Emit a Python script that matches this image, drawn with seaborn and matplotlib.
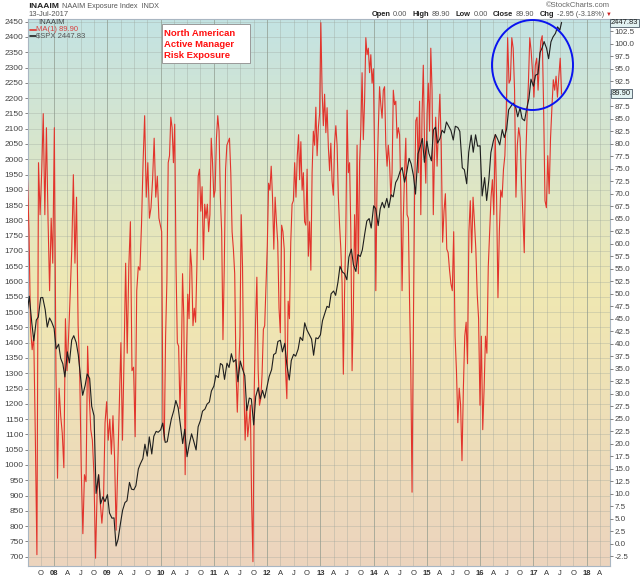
import numpy as np
import pandas as pd
import matplotlib
matplotlib.use("Agg")
import matplotlib.pyplot as plt
import seaborn as sns
from matplotlib.patches import Ellipse, Rectangle
from matplotlib.colors import LinearSegmentedColormap

# ---------------- data ----------------
naaim_2007_2009 = [73.5, 62.4, 42.9, 38.8, 41.5, 21.4, -2.2, 76.2, 65.8, 74.2, 86.0, 65.8, 83.2, 65.1, 50.6,
                   65.1, 56.1, 83.2, 34.6, 13.1, 31.1, 25.6, 22.1, 15.2, 45.0, 34.6, 41.5, 49.9, 58.9, 73.8,
                   56.1, 69.3, 43.6, 34.6, 14.5, 2.0, 13.8, 12.4, 39.5, 29.7, 22.8, 20.7, 13.8, -2.9, 10.3,
                   13.8, 8.2, 4.1, 8.2, 24.2, 28.4, 20.7, 24.9, 17.9, 25.6, 17.3, 2.7, 15.2, 27.7, 40.2,
                   20.7, 37.4, 56.1, 38.1, 55.4, 64.4, 34.6, 35.3, 21.4, 50.6, 55.4, 54.7, 63.7, 76.2, 85.6,
                   69.3, 76.2, 65.1, 67.2, 72.8, 81.1, 69.3, 73.5, 65.1]
naaim_2010_2012 = [62.4, 24.2, 20.7, 41.5, 52.6, 76.2, 77.6, 85.3, 83.2, 76.2, 83.9, 55.4, 40.2, 39.5, 27.0,
                   34.6, 54.0, 45.0, 13.8, 37.4, 49.9, 45.0, 58.9, 55.4, 43.6, 47.1, 44.3, 55.4, 73.5, 74.9,
                   66.5, 71.4, 56.8, 67.9, 65.1, 67.9, 62.4, 65.8, 81.1, 76.2, 69.3, 70.7, 81.1, 85.6, 82.5,
                   69.3, 62.4, 40.8, 55.4, 74.9, 79.7, 80.4, 81.1, 74.2, 62.4, 58.9, 54.0, 34.6, 26.3, 34.6,
                   41.5, 65.8, 55.4, 31.8, 20.7, 27.7, 21.4, 24.2, 27.7, 8.2, -3.6, 31.1, 44.3, 53.3, 34.6,
                   27.7, 29.0, 33.9, 42.9, 43.6, 51.3, 59.6, 72.1, 70.7, 75.5, 69.3, 58.9, 69.3, 64.4, 60.3,
                   47.1, 42.2, 63.7, 62.4, 58.9, 34.6, 29.0, 48.5, 45.0, 60.3, 67.9, 68.6, 76.2, 69.3, 77.6,
                   81.8]
naaim_2012_2015 = [72.8, 80.4, 70.7, 74.2, 64.4, 63.7, 74.9, 57.5, 64.4, 54.7, 74.2, 82.5, 79.7, 87.3, 77.6,
                   83.2, 86.0, 104.2, 90.6, 83.6, 89.9, 82.2, 87.2, 79.4, 74.6, 80.1, 72.5, 69.7, 80.1, 83.6,
                   79.7, 69.3, 63.7, 58.9, 52.0, 33.9, 50.6, 62.4, 86.7, 74.2, 76.2, 62.4, 34.6, 46.4, 65.8,
                   55.4, 79.7, 54.0, 76.2, 82.9, 94.2, 80.8, 88.5, 101.2, 97.8, 99.1, 94.2, 97.8, 92.1, 95.0,
                   77.6, 50.6, 72.8, 83.2, 91.4, 87.8, 85.1, 90.7, 91.4, 79.7, 75.5, 79.7, 76.2, 69.3, 74.2,
                   90.7, 87.8, 88.5, 81.1, 83.2, 81.8, 70.7, 50.6, 65.1, 74.2, 81.1, 65.8, 65.1, 48.5, 34.6,
                   10.3, 41.5, 69.3, 84.6, 85.3, 74.2, 88.5, 65.8, 86.0, 95.7, 79.7, 72.1, 86.0, 92.1, 82.5,
                   99.1, 90.7, 65.8]
naaim_2015_2017 = [76.2, 85.3, 75.5, 83.2, 89.9, 79.7, 60.3, 66.5, 70.0, 58.9, 58.2, 54.7, 52.0, 50.6, 62.4,
                   41.5, 34.6, 24.2, 31.1, 27.7, 16.6, 31.1, 41.5, 44.3, 36.0, 62.4, 68.6, 58.2, 69.3, 64.4,
                   58.9, 49.9, 45.0, 27.7, 41.5, 22.8, 31.1, 41.5, 38.1, 55.4, 62.4, 69.3, 72.8, 65.8, 81.8,
                   69.3, 49.2, 62.4, 70.7, 69.3, 74.9, 77.6, 86.5, 101.2, 92.1, 92.8, 101.2, 99.1, 90.7, 69.3,
                   79.7, 83.2, 81.1, 72.8, 65.8, 58.2, 76.2, 85.1, 92.1, 101.2, 98.5, 94.2, 89.3, 95.7, 97.1,
                   90.7, 96.4, 100.5, 101.6, 87.2, 68.6, 67.2, 77.6, 70.0, 81.1, 87.2, 92.8, 90.7, 93.5, 89.3,
                   93.5, 97.1, 89.9]
naaim_periods = [("2007-07-02", "2009-12-20"), ("2010-01-08", "2012-08-04"),
                 ("2012-08-11", "2015-02-14"), ("2015-02-21", "2017-07-13")]

# S&P 500, twice a month (1st / 15th) Jul-2007 .. Jul-2017, plus last close 13-Jul-2017
spx_close = [
    1503, 1552, 1465, 1406, 1474, 1484, 1547, 1548, 1508, 1451, 1481, 1468,
    1447, 1380, 1395, 1349, 1331, 1288, 1370, 1334, 1409, 1423, 1400, 1360, 1284, 1228, 1260, 1298, 1283, 1192, 1161, 907, 968, 873, 896, 880,
    903, 843, 826, 827, 735, 757, 811, 852, 877, 883, 943, 921, 919, 932, 987, 1004, 1021, 1068, 1029, 1092, 1036, 1094, 1110, 1107,
    1115, 1137, 1074, 1076, 1115, 1150, 1178, 1211, 1187, 1136, 1070, 1117, 1027, 1065, 1102, 1079, 1049, 1125, 1146, 1176, 1183, 1199, 1206, 1242,
    1258, 1293, 1286, 1332, 1327, 1280, 1333, 1319, 1364, 1337, 1345, 1272, 1340, 1316, 1292, 1178, 1219, 1216, 1131, 1224, 1253, 1216, 1244, 1219,
    1258, 1289, 1312, 1361, 1366, 1404, 1408, 1370, 1398, 1330, 1278, 1342, 1362, 1356, 1379, 1418, 1407, 1465, 1441, 1428, 1412, 1359, 1416, 1413,
    1426, 1472, 1498, 1519, 1515, 1560, 1569, 1555, 1598, 1650, 1631, 1626, 1606, 1680, 1706, 1655, 1633, 1688, 1682, 1703, 1757, 1798, 1806, 1775,
    1848, 1838, 1783, 1838, 1859, 1841, 1872, 1842, 1884, 1877, 1924, 1936, 1960, 1973, 1925, 1955, 2003, 1985, 1946, 1886, 2018, 2039, 2068, 1990,
    2059, 2019, 1995, 2096, 2105, 2053, 2068, 2095, 2086, 2122, 2107, 2094, 2063, 2108, 2104, 2091, 1972, 1966, 1920, 2023, 2079, 2023, 2080, 2043,
    2044, 1880, 1940, 1865, 1932, 2022, 2060, 2081, 2065, 2047, 2097, 2071, 2099, 2162, 2174, 2184, 2171, 2139, 2168, 2133, 2126, 2164, 2199, 2262,
    2239, 2275, 2279, 2349, 2364, 2385, 2363, 2329, 2384, 2400, 2412, 2433, 2423, 2447.83]
spx_dates = list(pd.date_range("2007-07-01", "2017-07-01", freq="SMS")) + [pd.Timestamp("2017-07-13")]

spx_ticks = list(range(700, 2451, 50))
naaim_ticks = list(np.arange(-2.5, 102.6, 2.5))
quarter_ticks = pd.date_range("2007-10-01", "2018-04-01", freq="QS")
month_letter = {4: "A", 7: "J", 10: "O"}
header_items = [("Open", "0.00"), ("High", "89.90"), ("Low", "0.00"), ("Close", "89.90"), ("Chg", "-2.95 (-3.18%)")]

# ---------------- tables ----------------
frames = []
for vals, (a, b) in zip([naaim_2007_2009, naaim_2010_2012, naaim_2012_2015, naaim_2015_2017], naaim_periods):
    frames.append(pd.DataFrame({"date": pd.date_range(a, b, periods=len(vals)), "exposure": vals}))
naaim_df = pd.concat(frames, ignore_index=True)
spx_df = pd.DataFrame({"date": spx_dates, "close": spx_close})

# ---------------- figure ----------------
sns.set_theme(style="white")
plt.rcParams["font.family"] = ["Liberation Sans", "DejaVu Sans"]

W, H = 640, 576
fig = plt.figure(figsize=(6.4, 5.76), dpi=100)
fig.patch.set_facecolor("white")
rect = [27.7 / W, (H - 566) / H, (610 - 27.7) / W, (566 - 19) / H]

bg = fig.add_axes(rect, zorder=-1)
cmap = LinearSegmentedColormap.from_list("bg", [(0, "#c3e3e3"), (0.5, "#f0e8b2"), (1, "#ecd4be")])
bg.imshow(np.linspace(0, 1, 256).reshape(-1, 1), aspect="auto", cmap=cmap,
          extent=[0, 1, 0, 1], origin="upper")
bg.set_axis_off()

ax = fig.add_axes(rect)
ax.patch.set_alpha(0)
ax2 = ax.twinx()
ax3 = ax.twinx()

sns.lineplot(data=naaim_df, x="date", y="exposure", ax=ax2, color="#e2342c", lw=0.8)
sns.lineplot(data=spx_df, x="date", y="close", ax=ax3, color="#1e1e1e", lw=0.8)

xmin, xmax = pd.Timestamp("2007-07-04"), pd.Timestamp("2018-06-10")
ax.set_xlim(xmin, xmax)
spx_lim = (669.6, 2458.8)
ax.set_ylim(*spx_lim)
ax3.set_ylim(*spx_lim)
ax2.set_ylim(-4.46, 104.94)
ax3.set_axis_off()

# left axis (SPX)
ax.set_yticks(spx_ticks)
ax.yaxis.tick_left()
ax.tick_params(axis="y", labelsize=6, length=2, width=0.5, pad=1, colors="#555555", labelcolor="#444444")
ax.grid(axis="y", color="#9aa39a", lw=0.5, alpha=0.45)

# right axis (NAAIM)
ax2.set_yticks(naaim_ticks)
ax2.set_yticklabels(["" if abs(t - 90.0) < 1e-6 else f"{t:.1f}" for t in naaim_ticks])
ax2.tick_params(axis="y", labelsize=5.8, length=2, width=0.5, pad=1.5, colors="#555555", labelcolor="#444444")
for s in ax2.spines.values():
    s.set_visible(False)

# x axis
ax.set_xticks(quarter_ticks)
ax.set_xticklabels([f"{d.year % 100:02d}" if d.month == 1 else month_letter[d.month] for d in quarter_ticks])
for lab, d in zip(ax.get_xticklabels(), quarter_ticks):
    if d.month == 1:
        lab.set_fontweight("bold")
ax.tick_params(axis="x", labelsize=5.5, length=2, width=0.5, pad=1, colors="#555555", labelcolor="#333333")
ax.grid(axis="x", color="#9aa39a", lw=0.5, alpha=0.5)
for d in quarter_ticks:
    if d.month == 1:
        ax.axvline(d, color="#8a9688", lw=0.6, alpha=0.6)
for a in (ax, ax2, ax3):
    a.set_xlabel("")
    a.set_ylabel("")
for s in ax.spines.values():
    s.set_color("#a9b6c2")
    s.set_linewidth(0.8)

# ---------------- texts ----------------
def ftxt(x, y, s, **kw):
    return fig.text(x / W, 1 - y / H, s, **kw)

ftxt(28, 6.5, "!NAAIM", fontsize=6.1, fontweight="bold", color="#222222", va="center")
ftxt(62.5, 6.5, "NAAIM Exposure Index  INDX", fontsize=5.2, color="#555555", va="center")
ftxt(28, 14.3, "13-Jul-2017", fontsize=5.5, color="#555555", va="center")
ftxt(610, 5.7, "\u00a9StockCharts.com", fontsize=5.5, color="#666666", va="center", ha="right")

# header quote line laid out right-to-left from the red marker
renderer = fig.canvas.get_renderer()
xr = 604.0
ftxt(605.5, 14.3, "\u25bc", fontsize=4.2, color="#cc2222", va="center")
for lbl, val in reversed(header_items):
    tv = ftxt(xr, 14.3, val, fontsize=5.3, color="#555555", va="center", ha="right")
    wv = tv.get_window_extent(renderer).width
    xr -= wv + 2.5
    tl = ftxt(xr, 14.3, lbl, fontsize=5.4, fontweight="bold", color="#222222", va="center", ha="right")
    wl = tl.get_window_extent(renderer).width
    xr -= wl + 5.5

# legend
ftxt(38, 22.7, "!NAAIM", fontsize=5.5, color="#444444", va="center")
fig.add_artist(plt.Line2D([30 / W, 35.5 / W], [1 - 29.6 / H, 1 - 29.6 / H], color="#e2342c", lw=1.2))
ftxt(36, 29.6, "MA(1) 89.90", fontsize=5.5, color="#d84040", va="center")
fig.add_artist(plt.Line2D([30 / W, 35.5 / W], [1 - 36.4 / H, 1 - 36.4 / H], color="#222222", lw=1.2))
ftxt(36, 36.4, "$SPX 2447.83", fontsize=5.5, color="#555555", va="center")

# annotation box
fig.add_artist(Rectangle((163 / W, 1 - 64 / H), 88.3 / W, 38.7 / H, transform=fig.transFigure,
                         fc="#b0b0b0", ec="none", zorder=6))
fig.add_artist(Rectangle((161.7 / W, 1 - 62.7 / H), 88.3 / W, 38.7 / H, transform=fig.transFigure,
                         fc="white", ec="#9a9a9a", lw=0.7, zorder=7))
for yb, s in [(36.2, "North American"), (47.0, "Active Manager"), (57.6, "Risk Exposure")]:
    fig.text(163.5 / W, 1 - yb / H, s, fontsize=6.8, fontweight="bold", color="#ff1010",
             va="baseline", ha="left", zorder=8)

# value tags on right
ftxt(611, 23.0, "2447.83", fontsize=5.4, color="#222222", va="center", zorder=9,
     bbox=dict(boxstyle="square,pad=0.12", fc="#e2f2f2", ec="#4a5a66", lw=0.6))
ftxt(612, 93.4, "89.90", fontsize=5.4, color="#222222", va="center", zorder=9,
     bbox=dict(boxstyle="square,pad=0.12", fc="#e2f2f2", ec="#4a5a66", lw=0.6))

# highlight circle
fig.add_artist(Ellipse((532.5 / W, 1 - 65 / H), 81 / W, 90 / H, transform=fig.transFigure,
                       fill=False, ec="#0a14f0", lw=1.4, zorder=10))

fig.savefig("out.png", dpi=100, facecolor="white")
